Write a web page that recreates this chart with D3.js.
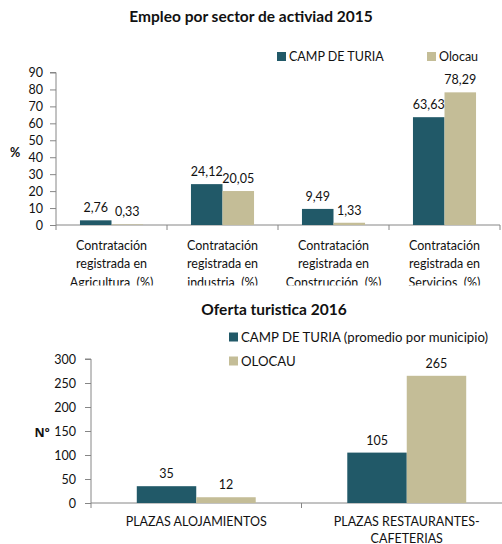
<!DOCTYPE html>
<html><head><meta charset="utf-8">
<script src="https://cdn.jsdelivr.net/npm/d3@7"></script>
<style>
html,body{margin:0;padding:0;background:#fff;}
svg text{font-family:Lato,"Liberation Sans",sans-serif;fill:#111;}
</style></head>
<body><svg id="c" width="502" height="544"></svg>
<script>
// ---- Data: chart 1 ----
const title1 = "Empleo por sector de activiad 2015";
const cats1 = [
  ["Contratación","registrada en","Agricultura  (%)"],
  ["Contratación","registrada en","industria  (%)"],
  ["Contratación","registrada en","Construcción  (%)"],
  ["Contratación","registrada en","Servicios  (%)"]
];
const series1 = ["CAMP DE TURIA","Olocau"];
const campValues1 = [2.76, 24.12, 9.49, 63.63];
const olocauValues1 = [0.33, 20.05, 1.33, 78.29];
const yTicks1 = [0,10,20,30,40,50,60,70,80,90];
const yTitle1 = "%";

// ---- Data: chart 2 ----
const title2 = "Oferta turistica 2016";
const cats2 = [["PLAZAS ALOJAMIENTOS"],["PLAZAS RESTAURANTES-","CAFETERIAS"]];
const series2 = ["CAMP DE TURIA (promedio por municipio)","OLOCAU"];
const campValues2 = [35, 105];
const olocauValues2 = [12, 265];
const yTicks2 = [0,50,100,150,200,250,300];
const yTitle2 = "Nº";

const colors = ["#215968","#C4BD97"];
const fmt = v => String(v).replace(".", ",");

const svg = d3.select("#c");
const defs = svg.append("defs");
defs.append("clipPath").attr("id","clip1").append("rect").attr("x",0).attr("y",0).attr("width",502).attr("height",285.5);

function drawChart(g, o){
  const catIdx = o.cats.map((d,i)=>i);
  const x = d3.scaleBand().domain(catIdx).range([o.x0,o.x1]).padding(0);
  const xi = d3.scaleBand().domain([0,1]).range([0,x.bandwidth()]).paddingInner(0).paddingOuter(o.outer);
  const y = d3.scaleLinear().domain([0,o.ymax]).range([o.y0,o.y1]);
  const data = catIdx.flatMap(i => [
    {c:i,s:0,v:o.a[i]},{c:i,s:1,v:o.b[i]}
  ]);
  // y axis
  const ya = g.append("g").attr("transform",`translate(${o.x0},0)`)
    .call(d3.axisLeft(y).tickValues(o.ticks).tickSize(6).tickPadding(o.tpad).tickFormat(d=>d));
  ya.select(".domain").attr("stroke","#868686").attr("d",`M-6,${o.y1}H0V${o.y0}`);
  ya.selectAll(".tick line").attr("stroke","#868686");
  ya.selectAll(".tick text").attr("font-size",o.fs).attr("fill","#111").attr("font-family","Lato");
  // x axis
  const xa = g.append("g").attr("transform",`translate(0,${o.y0})`);
  xa.append("path").attr("stroke","#868686").attr("fill","none")
    .attr("d",`M${o.x0},0H${o.x1}`);
  const bounds = catIdx.map(i=>x(i)).concat([o.x1]);
  xa.selectAll("line.t").data(bounds).join("line").attr("class","t")
    .attr("x1",d=>d).attr("x2",d=>d).attr("y1",0).attr("y2",5).attr("stroke","#868686");
  // bars
  g.selectAll("rect.bar").data(data).join("rect").attr("class","bar")
    .attr("x",d=>x(d.c)+xi(d.s)).attr("width",xi.bandwidth())
    .attr("y",d=>y(d.v)).attr("height",d=>o.y0-y(d.v))
    .attr("fill",d=>colors[d.s]);
  // value labels
  g.selectAll("text.val").data(data).join("text").attr("class","val")
    .attr("x",d=>x(d.c)+xi(d.s)+xi.bandwidth()/2)
    .attr("y",d=>y(d.v)-8).attr("text-anchor","middle").attr("font-size",o.fs)
    .text(d=>o.fmt(d.v));
  // category labels
  o.cats.forEach((lines,i)=>{
    lines.forEach((ln,j)=>{
      g.append("text").attr("x",x(i)+x.bandwidth()/2).attr("y",o.y0+o.lab0+j*o.lh)
        .attr("text-anchor","middle").attr("font-size",o.fs).attr("xml:space","preserve").text(ln);
    });
  });
  // axis title
  g.append("text").attr("x",o.ytx).attr("y",o.yty).attr("text-anchor","middle")
    .attr("font-size",o.fs).attr("font-weight","bold").style("font-family",o.ytfont||null).text(o.ytitle);
  // title
  g.append("text").attr("x",o.tx).attr("y",o.ty).attr("text-anchor","middle")
    .attr("font-size",o.tfs).attr("font-weight","bold").text(o.title);
  // legend
  o.series.forEach((s,i)=>{
    const lx = o.leg[i][0], ly = o.leg[i][1];
    g.append("rect").attr("x",lx).attr("y",ly-4.5).attr("width",9).attr("height",9).attr("fill",colors[i]);
    g.append("text").attr("x",lx+12).attr("y",ly+4.5).attr("font-size",o.lfs).text(s);
  });
}

drawChart(svg.append("g").attr("clip-path","url(#clip1)"), {
  cats:cats1, a:campValues1, b:olocauValues1, series:series1, ticks:yTicks1, ymax:90,
  x0:56, x1:500, y0:225, y1:72.5, outer:0.76, tpad:7, fs:12.5, lfs:12.5,
  lab0:24.5, lh:18.5, fmt:fmt, ytitle:yTitle1, ytx:15, yty:156.5,
  title:title1, tx:251, ty:22, tfs:15.5, leg:[[277,56.5],[427,56.5]]
});
drawChart(svg.append("g"), {
  cats:cats2, a:campValues2, b:olocauValues2, series:series2, ticks:yTicks2, ymax:300,
  x0:91, x1:512, y0:503, y1:359, outer:0.77, tpad:9, fs:12.5, lfs:13.2,
  lab0:22.5, lh:17, fmt:fmt, ytitle:yTitle2, ytx:42, yty:436.5, ytfont:"'Open Sans'",
  title:title2, tx:274, ty:315, tfs:15.5, leg:[[229,337],[229,361]]
});
</script></body></html>
